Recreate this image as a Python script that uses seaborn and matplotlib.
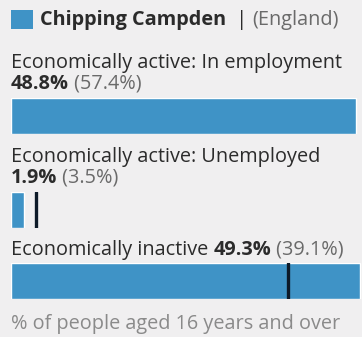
import matplotlib
matplotlib.use("Agg")
import matplotlib.pyplot as plt
from matplotlib.patches import Rectangle
import seaborn as sns
import pandas as pd

# Economic activity, Chipping Campden vs England
area_name = "Chipping Campden"
comparison_name = "England"
categories = [
    "Economically active: In employment",
    "Economically active: Unemployed",
    "Economically inactive",
]
area_values = [48.8, 1.9, 49.3]
england_values = [57.4, 3.5, 39.1]
footer = "% of people aged 16 years and over"

W, H = 362, 337
BG = "#f0eff0"
BAR = "#3f93c6"
MARK = "#0d1a28"
DARK = "#2b2b2b"
GREY = "#6a6a6a"
LIGHT = "#8a8a8a"
FS = 14.3

sns.set_theme(style="white")
plt.rcParams["font.family"] = ["Open Sans", "DejaVu Sans"]

fig = plt.figure(figsize=(W / 100, H / 100), dpi=100, facecolor=BG)

# invisible canvas axes in pixel coordinates (origin top-left) for the text layer
canvas = fig.add_axes([0, 0, 1, 1])
canvas.set_xlim(0, W)
canvas.set_ylim(H, 0)
canvas.set_axis_off()
canvas.patch.set_alpha(0)


def follow(prev, s, **kw):
    """Place text s right after text artist prev, on the same line."""
    return canvas.annotate(s, xy=(1, 0), xycoords=prev, va="bottom", ha="left",
                           fontsize=FS, annotation_clip=False, **kw)


# header: colour key + area name + comparison
canvas.add_patch(Rectangle((11, 10), 22, 19, facecolor=BAR, edgecolor="none"))
t = canvas.text(40, 20, area_name, fontsize=FS, fontweight="bold", color=DARK, va="center")
h1 = follow(t, "  | ", color=DARK)
follow(h1, f"({comparison_name})", color=GREY)

# text and bar vertical positions (pixels from top)
name_y = [63, 157, 250]
value_y = [84, 178, 250]
bar_top = [98, 192, 263]
bar_h = 36

x_left = 11
x_max = 49.6

for i, cat in enumerate(categories):
    val = f"{area_values[i]}%"
    eng = f" ({england_values[i]}%)"
    if name_y[i] == value_y[i]:
        n = canvas.text(x_left, name_y[i], cat + " ", fontsize=FS, color=DARK, va="center")
        v = follow(n, val, color=DARK, fontweight="bold")
    else:
        canvas.text(x_left, name_y[i], cat, fontsize=FS, color=DARK, va="center")
        v = canvas.text(x_left, value_y[i], val, fontsize=FS, fontweight="bold",
                        color=DARK, va="center")
    follow(v, eng, color=GREY)

    ax = fig.add_axes([x_left / W, 1 - (bar_top[i] + bar_h) / H, 1 - x_left / W, bar_h / H])
    df = pd.DataFrame({"category": [cat], "value": [area_values[i]]})
    sns.barplot(data=df, x="value", y="category", orient="h", color=BAR, saturation=1,
                width=1.0, ax=ax)
    ax.axvline(england_values[i], color=MARK, linewidth=2.4)
    ax.set_xlim(0, x_max)
    ax.set_ylim(0.5, -0.5)
    ax.set_axis_off()
    ax.patch.set_alpha(0)

canvas.text(x_left, 324, footer, fontsize=FS, color=LIGHT, va="center")

fig.savefig("out.png", dpi=100, facecolor=BG)
